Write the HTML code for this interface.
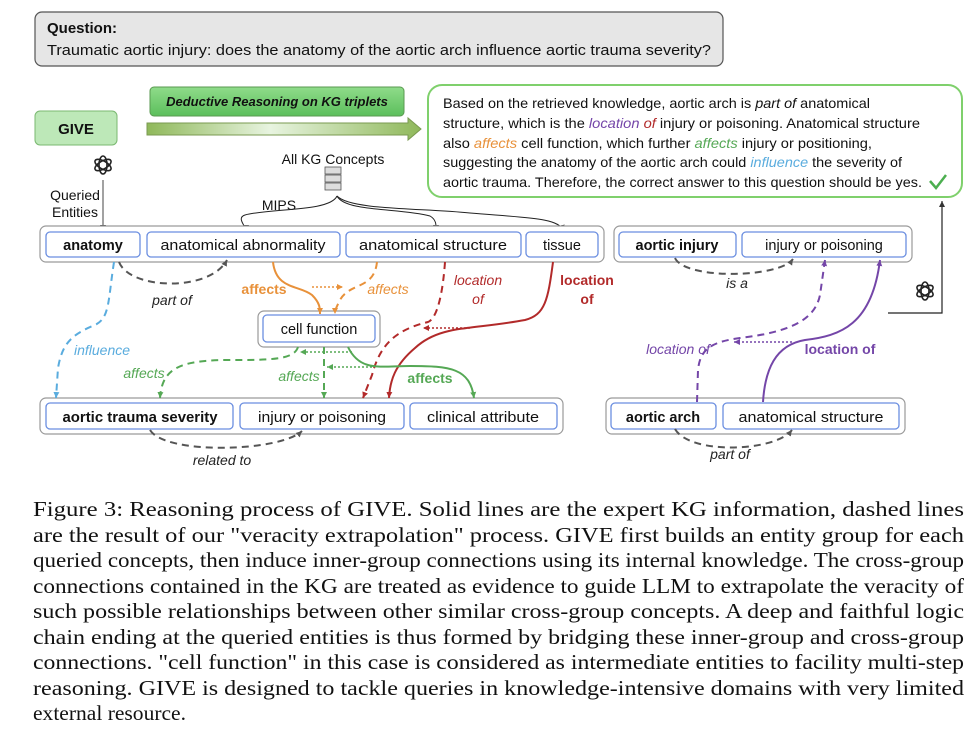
<!DOCTYPE html>
<html><head><meta charset="utf-8"><style>
html,body{margin:0;padding:0;background:#fff;}
svg{display:block;font-family:"Liberation Sans",sans-serif;}
.n{fill:#fff;stroke:#6b8ee0;stroke-width:1.3;}
.g{fill:#fff;stroke:#9a9a9a;stroke-width:1.2;}
.t{font-size:14.5px;fill:#111;text-anchor:middle;}
.b{font-weight:bold;}
.cap{font-family:"Liberation Serif",serif;font-size:21px;fill:#111;}
.l{font-size:14px;font-style:italic;text-anchor:middle;}
</style></head><body>
<svg width="980" height="738" viewBox="0 0 980 738" xmlns="http://www.w3.org/2000/svg">
<defs>
<linearGradient id="gg" x1="0" y1="0" x2="0" y2="1"><stop offset="0" stop-color="#8fdc8a"/><stop offset="1" stop-color="#5cbf5c"/></linearGradient>
<linearGradient id="ga" x1="0" y1="0" x2="1" y2="0"><stop offset="0" stop-color="#8fb85a"/><stop offset="0.45" stop-color="#e8f4e0"/><stop offset="1" stop-color="#8fb85a"/></linearGradient>
<marker id="ak" markerWidth="8" markerHeight="8" refX="6" refY="4" orient="auto" markerUnits="userSpaceOnUse"><path d="M0,1 L6,4 L0,7z" fill="#333"/></marker>
<marker id="agr" markerWidth="8" markerHeight="8" refX="6" refY="4" orient="auto" markerUnits="userSpaceOnUse"><path d="M0,1 L6,4 L0,7z" fill="#555"/></marker>
<marker id="abl" markerWidth="8" markerHeight="8" refX="6" refY="4" orient="auto" markerUnits="userSpaceOnUse"><path d="M0,1 L6,4 L0,7z" fill="#5aacde"/></marker>
<marker id="aor" markerWidth="8" markerHeight="8" refX="6" refY="4" orient="auto" markerUnits="userSpaceOnUse"><path d="M0,1 L6,4 L0,7z" fill="#e8913a"/></marker>
<marker id="ard" markerWidth="8" markerHeight="8" refX="6" refY="4" orient="auto" markerUnits="userSpaceOnUse"><path d="M0,1 L6,4 L0,7z" fill="#b22a2a"/></marker>
<marker id="agn" markerWidth="8" markerHeight="8" refX="6" refY="4" orient="auto" markerUnits="userSpaceOnUse"><path d="M0,1 L6,4 L0,7z" fill="#55a855"/></marker>
<marker id="apu" markerWidth="8" markerHeight="8" refX="6" refY="4" orient="auto" markerUnits="userSpaceOnUse"><path d="M0,1 L6,4 L0,7z" fill="#7446a8"/></marker>
<g id="logo" fill="none" stroke="#222" stroke-width="1.6">
<ellipse cx="0" cy="0" rx="4" ry="9" transform="rotate(0)"/>
<ellipse cx="0" cy="0" rx="4" ry="9" transform="rotate(60)"/>
<ellipse cx="0" cy="0" rx="4" ry="9" transform="rotate(120)"/>
</g>
</defs>

<rect x="35" y="12" width="688" height="54" rx="7" fill="#e6e6e6" stroke="#555" stroke-width="1.2"/>
<text x="47" y="33" font-size="15" font-weight="bold" fill="#111">Question:</text>
<text x="47" y="55" font-size="15" fill="#111" textLength="664" lengthAdjust="spacingAndGlyphs">Traumatic aortic injury: does the anatomy of the aortic arch influence aortic trauma severity?</text>

<rect x="35" y="111" width="82" height="34" rx="5" fill="#bde8b8" stroke="#7ab870" stroke-width="1"/>
<text x="76" y="134" font-size="15" font-weight="bold" text-anchor="middle" fill="#111">GIVE</text>
<rect x="150" y="87" width="254" height="29" rx="4" fill="url(#gg)" stroke="#5a9a50" stroke-width="1"/>
<text x="277" y="106" font-size="13" font-weight="bold" font-style="italic" text-anchor="middle" fill="#111">Deductive Reasoning on KG triplets</text>
<path d="M147,123 L408,123 L408,118 L421,129 L408,140 L408,135 L147,135 Z" fill="url(#ga)" stroke="#7a9a50" stroke-width="1"/>

<rect x="428" y="85" width="534" height="112" rx="14" fill="#fff" stroke="#7fd06c" stroke-width="2"/>
<g font-size="14" fill="#111">
<text x="443" y="108" textLength="427" lengthAdjust="spacingAndGlyphs">Based on the retrieved knowledge, aortic arch is <tspan font-style="italic">part of</tspan> anatomical</text>
<text x="443" y="128" textLength="477" lengthAdjust="spacingAndGlyphs">structure, which is the <tspan font-style="italic" fill="#7446a8">location</tspan> <tspan font-style="italic" fill="#b22a2a">of</tspan> injury or poisoning. Anatomical structure</text>
<text x="443" y="148" textLength="429" lengthAdjust="spacingAndGlyphs">also <tspan font-style="italic" fill="#e8913a">affects</tspan> cell function, which further <tspan font-style="italic" fill="#55a855">affects</tspan> injury or positioning,</text>
<text x="443" y="167" textLength="459" lengthAdjust="spacingAndGlyphs">suggesting the anatomy of the aortic arch could <tspan font-style="italic" fill="#5aacde">influence</tspan> the severity of</text>
<text x="443" y="187" textLength="479" lengthAdjust="spacingAndGlyphs">aortic trauma. Therefore, the correct answer to this question should be yes.</text>
</g>
<path d="M930,181 L936,188 L946,175" fill="none" stroke="#4caf50" stroke-width="2.5"/>

<use href="#logo" x="103" y="165"/>
<text x="75" y="200" font-size="14" text-anchor="middle" fill="#111">Queried</text>
<text x="75" y="217" font-size="14" text-anchor="middle" fill="#111">Entities</text>
<line x1="103" y1="180" x2="103" y2="231" stroke="#444" stroke-width="1" marker-end="url(#ak)"/>

<text x="333" y="164" font-size="14" text-anchor="middle" fill="#111">All KG Concepts</text>
<g fill="#ddd" stroke="#555" stroke-width="0.8">
<rect x="325" y="167" width="16" height="7"/><rect x="325" y="175" width="16" height="7"/><rect x="325" y="183" width="16" height="7"/>
</g>
<text x="279" y="210" font-size="14" text-anchor="middle" fill="#111">MIPS</text>
<g fill="none" stroke="#222" stroke-width="1">
<path d="M337,196 C330,212 270,208 245,215 C236,218 246,226 246,231" marker-end="url(#ak)"/>
<path d="M337,196 C345,212 400,208 430,216 C437,220 436,226 436,231" marker-end="url(#ak)"/>
<path d="M337,196 C350,210 420,208 470,213 C530,218 560,218 563,231" marker-end="url(#ak)"/>
</g>

<rect class="g" x="40" y="226" width="564" height="36" rx="6"/>
<rect class="n" x="46" y="232" width="94" height="25" rx="4"/>
<rect class="n" x="147" y="232" width="193" height="25" rx="4"/>
<rect class="n" x="346" y="232" width="175" height="25" rx="4"/>
<rect class="n" x="526" y="232" width="72" height="25" rx="4"/>
<text class="t b" x="93" y="250">anatomy</text>
<text class="t" x="243" y="250" textLength="165" lengthAdjust="spacingAndGlyphs">anatomical abnormality</text>
<text class="t" x="433" y="250" textLength="148" lengthAdjust="spacingAndGlyphs">anatomical structure</text>
<text class="t" x="562" y="250">tissue</text>

<rect class="g" x="614" y="226" width="298" height="36" rx="6"/>
<rect class="n" x="619" y="232" width="117" height="25" rx="4"/>
<rect class="n" x="742" y="232" width="164" height="25" rx="4"/>
<text class="t b" x="677" y="250">aortic injury</text>
<text class="t" x="824" y="250">injury or poisoning</text>

<rect class="g" x="258" y="311" width="122" height="36" rx="6"/>
<rect class="n" x="263" y="315" width="112" height="27" rx="4"/>
<text class="t" x="319" y="334">cell function</text>

<rect class="g" x="40" y="398" width="523" height="36" rx="6"/>
<rect class="n" x="46" y="403" width="187" height="26" rx="4"/>
<rect class="n" x="240" y="403" width="164" height="26" rx="4"/>
<rect class="n" x="410" y="403" width="147" height="26" rx="4"/>
<text class="t b" x="140" y="422" textLength="155" lengthAdjust="spacingAndGlyphs">aortic trauma severity</text>
<text class="t" x="322" y="422" textLength="128" lengthAdjust="spacingAndGlyphs">injury or poisoning</text>
<text class="t" x="483" y="422" textLength="112" lengthAdjust="spacingAndGlyphs">clinical attribute</text>

<rect class="g" x="606" y="398" width="299" height="36" rx="6"/>
<rect class="n" x="611" y="403" width="105" height="26" rx="4"/>
<rect class="n" x="723" y="403" width="176" height="26" rx="4"/>
<text class="t b" x="663" y="422">aortic arch</text>
<text class="t" x="811" y="422" textLength="145" lengthAdjust="spacingAndGlyphs">anatomical structure</text>

<g fill="none" stroke-width="2">
<path d="M119,262 C130,290 210,292 227,260" stroke="#555" stroke-dasharray="7,5" marker-end="url(#agr)"/>
<path d="M114,262 C108,300 110,318 95,325 C70,335 62,345 58,368 L56,398" stroke="#5aacde" stroke-dasharray="7,5" marker-end="url(#abl)"/>
<path d="M273,262 C276,290 300,285 312,295 C320,303 320,308 320,314" stroke="#e8913a" marker-end="url(#aor)"/>
<path d="M377,262 C374,290 350,282 340,300 C336,308 335,310 335,314" stroke="#e8913a" stroke-dasharray="7,5" marker-end="url(#aor)"/>
<path d="M312,287 L343,287" stroke="#e8913a" stroke-width="1.6" stroke-dasharray="2,2" marker-end="url(#aor)"/>
<path d="M445,262 C443,290 438,318 428,322 C395,330 380,345 372,375 L363,398" stroke="#b22a2a" stroke-dasharray="7,5" marker-end="url(#ard)"/>
<path d="M470,328 L423,328" stroke="#b22a2a" stroke-width="1.6" stroke-dasharray="2,2" marker-end="url(#ard)"/>
<path d="M553,262 C548,300 545,315 525,320 C470,330 440,325 415,348 C395,365 390,380 389,398" stroke="#b22a2a" marker-end="url(#ard)"/>
<path d="M348,347 C360,372 380,366 410,366 C450,366 470,368 474,398" stroke="#55a855" marker-end="url(#agn)"/>
<path d="M324,347 L324,398" stroke="#55a855" stroke-dasharray="7,5" marker-end="url(#agn)"/>
<path d="M298,347 C294,360 270,360 230,360 C180,360 162,368 160,398" stroke="#55a855" stroke-dasharray="7,5" marker-end="url(#agn)"/>
<path d="M352,352 L300,352" stroke="#55a855" stroke-width="1.6" stroke-dasharray="2,2" marker-end="url(#agn)"/>
<path d="M372,367 L327,367" stroke="#55a855" stroke-width="1.6" stroke-dasharray="2,2" marker-end="url(#agn)"/>
<path d="M150,430 C165,455 280,452 302,431" stroke="#555" stroke-dasharray="7,5" marker-end="url(#agr)"/>
<path d="M675,258 C685,280 780,278 793,259" stroke="#555" stroke-dasharray="7,5" marker-end="url(#agr)"/>
<path d="M697,402 L698,370 C700,350 710,342 740,338 C790,332 815,320 820,295 L825,260" stroke="#7446a8" stroke-dasharray="7,5" marker-end="url(#apu)"/>
<path d="M763,402 C765,370 775,345 805,340 C840,336 872,325 880,260" stroke="#7446a8" marker-end="url(#apu)"/>
<path d="M792,342 L734,342" stroke="#7446a8" stroke-width="1.6" stroke-dasharray="2,2" marker-end="url(#apu)"/>
<path d="M675,429 C690,455 775,452 792,430" stroke="#555" stroke-dasharray="7,5" marker-end="url(#agr)"/>
<path d="M888,313 L942,313 L942,201" stroke="#222" stroke-width="1.2" marker-end="url(#ak)"/>
</g>
<use href="#logo" x="925" y="291"/>

<text class="l" x="172" y="305" fill="#222">part of</text>
<text x="264" y="294" font-size="14" font-weight="bold" text-anchor="middle" fill="#e8913a">affects</text>
<text class="l" x="388" y="294" fill="#e8913a">affects</text>
<text class="l" x="478" y="285" fill="#b22a2a">location</text>
<text class="l" x="478" y="304" fill="#b22a2a">of</text>
<text x="587" y="285" font-size="14" font-weight="bold" text-anchor="middle" fill="#b22a2a">location</text>
<text x="587" y="304" font-size="14" font-weight="bold" text-anchor="middle" fill="#b22a2a">of</text>
<text class="l" x="102" y="355" fill="#5aacde">influence</text>
<text class="l" x="144" y="378" fill="#55a855">affects</text>
<text class="l" x="299" y="381" fill="#55a855">affects</text>
<text x="430" y="383" font-size="14" font-weight="bold" text-anchor="middle" fill="#55a855">affects</text>
<text class="l" x="222" y="465" fill="#222">related to</text>
<text class="l" x="737" y="288" fill="#222">is a</text>
<text class="l" x="678" y="354" fill="#7446a8">location  of</text>
<text x="840" y="354" font-size="14" font-weight="bold" text-anchor="middle" fill="#7446a8">location of</text>
<text class="l" x="730" y="459" fill="#222">part of</text>

<g class="cap">
<text x="33" y="516" textLength="931" lengthAdjust="spacingAndGlyphs">Figure 3: Reasoning process of GIVE. Solid lines are the expert KG information, dashed lines</text>
<text x="33" y="542" textLength="931" lengthAdjust="spacingAndGlyphs">are the result of our "veracity extrapolation" process. GIVE first builds an entity group for each</text>
<text x="33" y="567" textLength="931" lengthAdjust="spacingAndGlyphs">queried concepts, then induce inner-group connections using its internal knowledge. The cross-group</text>
<text x="33" y="593" textLength="931" lengthAdjust="spacingAndGlyphs">connections contained in the KG are treated as evidence to guide LLM to extrapolate the veracity of</text>
<text x="33" y="618" textLength="931" lengthAdjust="spacingAndGlyphs">such possible relationships between other similar cross-group concepts. A deep and faithful logic</text>
<text x="33" y="644" textLength="931" lengthAdjust="spacingAndGlyphs">chain ending at the queried entities is thus formed by bridging these inner-group and cross-group</text>
<text x="33" y="669" textLength="931" lengthAdjust="spacingAndGlyphs">connections. "cell function" in this case is considered as intermediate entities to facility multi-step</text>
<text x="33" y="695" textLength="931" lengthAdjust="spacingAndGlyphs">reasoning. GIVE is designed to tackle queries in knowledge-intensive domains with very limited</text>
<text x="33" y="720" textLength="153" lengthAdjust="spacingAndGlyphs">external resource.</text>
</g>
</svg>
</body></html>
